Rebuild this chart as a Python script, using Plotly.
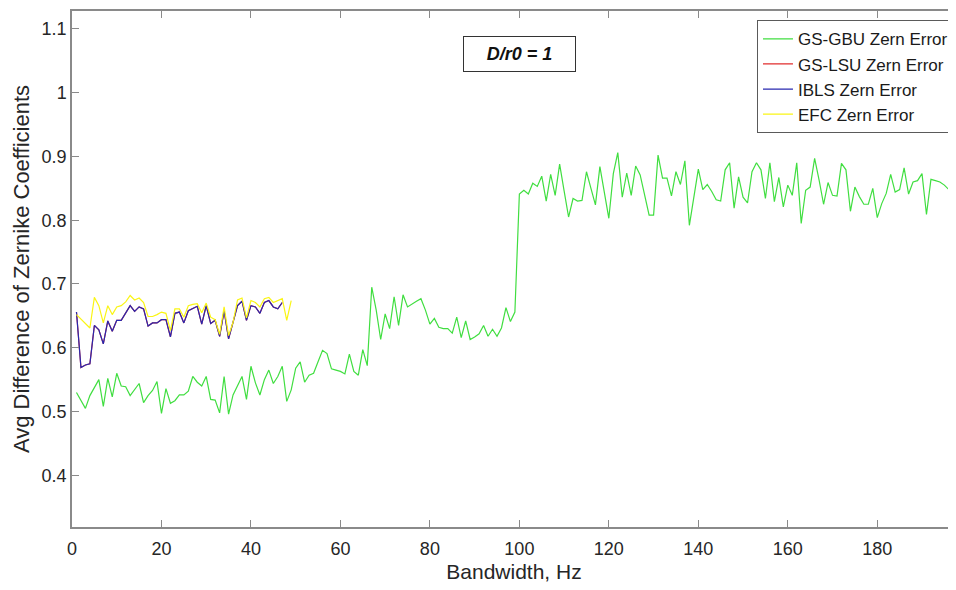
import plotly.graph_objects as go

# ---- data ----
gbu_hz = list(range(1, 199))
gbu_err = [
    0.530, 0.518, 0.505, 0.525, 0.538, 0.550, 0.508, 0.552, 0.523, 0.560,
    0.540, 0.539, 0.525, 0.535, 0.544, 0.514, 0.525, 0.533, 0.547, 0.497,
    0.536, 0.513, 0.517, 0.526, 0.526, 0.532, 0.555, 0.546, 0.540, 0.555,
    0.519, 0.518, 0.498, 0.555, 0.496, 0.526, 0.540, 0.555, 0.519, 0.571,
    0.545, 0.526, 0.550, 0.565, 0.544, 0.555, 0.571, 0.516, 0.534, 0.568,
    0.578, 0.546, 0.557, 0.560, 0.578, 0.596, 0.591, 0.567, 0.565, 0.563,
    0.559, 0.590, 0.563, 0.557, 0.597, 0.572, 0.695, 0.659, 0.613, 0.653,
    0.630, 0.680, 0.635, 0.683, 0.664, 0.669, 0.673, 0.677, 0.659, 0.637,
    0.646, 0.632, 0.630, 0.630, 0.623, 0.648, 0.616, 0.642, 0.613, 0.617,
    0.622, 0.635, 0.618, 0.629, 0.618, 0.631, 0.663, 0.641, 0.656, 0.841,
    0.847, 0.841, 0.858, 0.853, 0.869, 0.830, 0.872, 0.839, 0.888, 0.846,
    0.805, 0.834, 0.830, 0.831, 0.876, 0.850, 0.824, 0.884, 0.843, 0.803,
    0.873, 0.906, 0.836, 0.874, 0.839, 0.885, 0.871, 0.840, 0.808, 0.808,
    0.902, 0.866, 0.866, 0.838, 0.876, 0.856, 0.893, 0.792, 0.837, 0.880,
    0.848, 0.856, 0.845, 0.832, 0.830, 0.879, 0.890, 0.819, 0.868, 0.836,
    0.827, 0.876, 0.890, 0.879, 0.834, 0.890, 0.829, 0.867, 0.821, 0.855,
    0.839, 0.890, 0.795, 0.847, 0.852, 0.897, 0.863, 0.825, 0.859, 0.839,
    0.838, 0.889, 0.879, 0.814, 0.852, 0.837, 0.825, 0.825, 0.850, 0.804,
    0.826, 0.842, 0.872, 0.844, 0.848, 0.882, 0.841, 0.860, 0.862, 0.873,
    0.809, 0.864, 0.862, 0.860, 0.855, 0.848, 0.879, 0.800,
]

ibls_hz = list(range(1, 48))
ibls_err = [
    0.656, 0.569, 0.573, 0.575, 0.635, 0.628, 0.606, 0.642, 0.626, 0.643,
    0.643, 0.654, 0.666, 0.657, 0.664, 0.661, 0.634, 0.639, 0.639, 0.644,
    0.644, 0.617, 0.654, 0.656, 0.639, 0.658, 0.661, 0.665, 0.637, 0.666,
    0.638, 0.643, 0.618, 0.658, 0.614, 0.638, 0.666, 0.673, 0.643, 0.666,
    0.664, 0.654, 0.671, 0.674, 0.664, 0.661, 0.671,
]

# GS-LSU is hidden beneath the IBLS curve in the reference
lsu_hz = list(range(1, 48))
lsu_err = [
    0.656, 0.569, 0.573, 0.575, 0.635, 0.628, 0.606, 0.642, 0.626, 0.643,
    0.643, 0.654, 0.666, 0.657, 0.664, 0.661, 0.634, 0.639, 0.639, 0.644,
    0.644, 0.617, 0.654, 0.656, 0.639, 0.658, 0.661, 0.665, 0.637, 0.666,
    0.638, 0.643, 0.618, 0.658, 0.614, 0.638, 0.666, 0.673, 0.643, 0.666,
    0.664, 0.654, 0.671, 0.674, 0.664, 0.661, 0.671,
]

efc_hz = list(range(1, 50))
efc_err = [
    0.652, 0.645, 0.638, 0.631, 0.679, 0.666, 0.639, 0.666, 0.652, 0.664,
    0.666, 0.672, 0.682, 0.675, 0.678, 0.671, 0.649, 0.649, 0.652, 0.656,
    0.654, 0.627, 0.661, 0.661, 0.648, 0.666, 0.668, 0.669, 0.655, 0.670,
    0.648, 0.644, 0.621, 0.664, 0.619, 0.640, 0.675, 0.678, 0.647, 0.674,
    0.671, 0.664, 0.677, 0.679, 0.671, 0.674, 0.677, 0.643, 0.674,
]

x_ticks = [0, 20, 40, 60, 80, 100, 120, 140, 160, 180]
y_ticks = [0.4, 0.5, 0.6, 0.7, 0.8, 0.9, 1.0, 1.1]
y_tick_text = ["0.4", "0.5", "0.6", "0.7", "0.8", "0.9", "1", "1.1"]

FONT = "Liberation Sans, Arial, sans-serif"
TXT = "#262626"
AX = "#8a8a8a"

fig = go.Figure()
fig.add_trace(go.Scatter(x=gbu_hz, y=gbu_err, mode="lines", name="GS-GBU Zern Error",
                         line=dict(color="rgb(64,222,64)", width=1.2)))
fig.add_trace(go.Scatter(x=lsu_hz, y=lsu_err, mode="lines", name="GS-LSU Zern Error",
                         line=dict(color="rgb(225,45,45)", width=1.2)))
fig.add_trace(go.Scatter(x=ibls_hz, y=ibls_err, mode="lines", name="IBLS Zern Error",
                         line=dict(color="rgb(40,40,175)", width=1.2)))
fig.add_trace(go.Scatter(x=efc_hz, y=efc_err, mode="lines", name="EFC Zern Error",
                         line=dict(color="rgb(250,245,20)", width=1.2)))

# page body has an 8px margin, so the figure is 8px smaller and shifted
fig.update_layout(
    width=948, height=582,
    margin=dict(l=64, r=0, t=3, b=63, pad=0),
    paper_bgcolor="white", plot_bgcolor="white",
    font=dict(family=FONT, color=TXT, size=18),
    showlegend=True,
    legend=dict(
        x=0.9977, y=0.982, xanchor="right", yanchor="top",
        bgcolor="white", bordercolor="#5a5a5a", borderwidth=1,
        font=dict(family=FONT, size=17, color="#1a1a1a"),
        tracegroupgap=0, itemwidth=30,
    ),
    xaxis=dict(
        range=[0, 197.6], tickvals=x_ticks,
        ticks="inside", ticklen=7, tickcolor=AX, tickwidth=1,
        showline=True, linecolor=AX, linewidth=1.5, mirror="ticks",
        showgrid=False, zeroline=False,
        tickfont=dict(size=18, color=TXT), ticklabelstandoff=5,
        title=dict(text="Bandwidth, Hz", font=dict(size=21, color=TXT), standoff=6),
        automargin=False,
    ),
    yaxis=dict(
        range=[0.319, 1.128], tickvals=y_ticks, ticktext=y_tick_text,
        ticks="inside", ticklen=7, tickcolor=AX, tickwidth=1,
        showline=True, linecolor=AX, linewidth=1.5, mirror=False,
        showgrid=False, zeroline=False,
        tickfont=dict(size=18, color=TXT), ticklabelstandoff=0,
        title=dict(text="Avg Difference of Zernike Coefficients",
                   font=dict(size=22, color=TXT), standoff=6),
        automargin=False,
    ),
    annotations=[dict(
        text="<b><i>D/r0 = 1</i></b>", xref="paper", yref="paper",
        x=0.5057, y=0.9158, xanchor="center", yanchor="middle", showarrow=False,
        font=dict(family=FONT, size=18, color="#111111"),
        bgcolor="white", bordercolor="#333333", borderwidth=1, borderpad=3,
        width=105, height=28,
    )],
)

fig.write_html("out.html")
